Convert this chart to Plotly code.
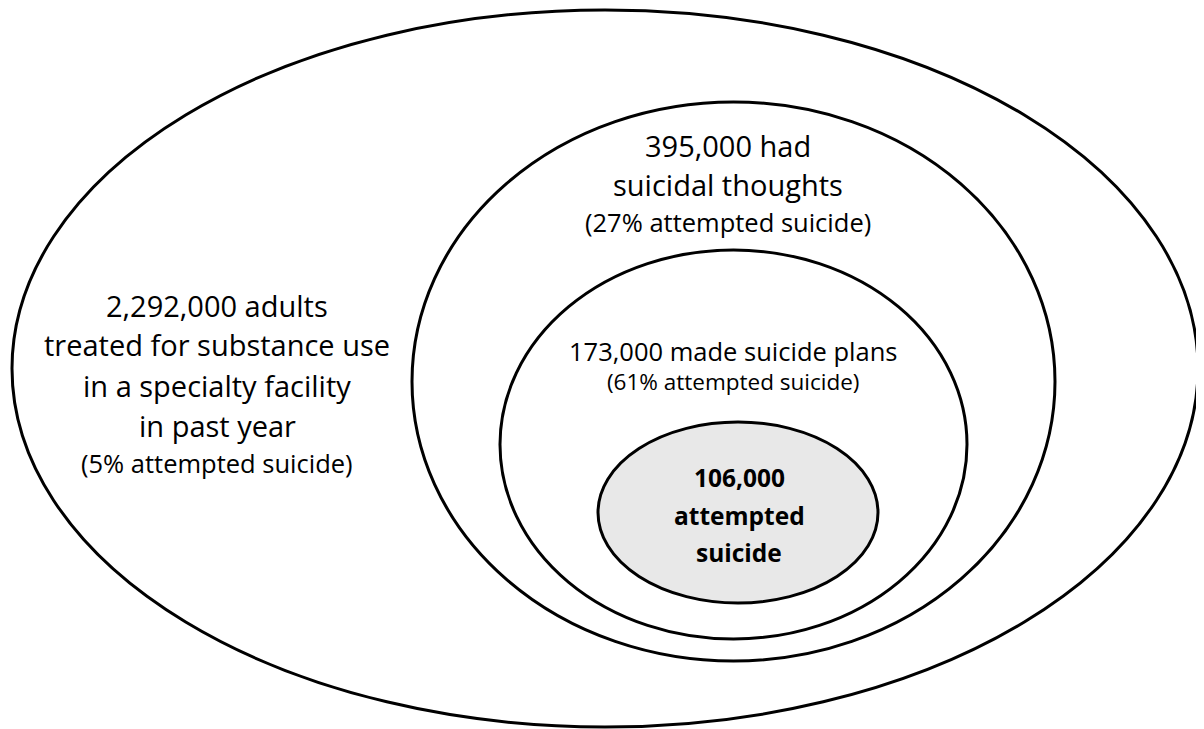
import plotly.graph_objects as go

# ---- data ----
group_counts = ["2,292,000", "395,000", "173,000", "106,000"]
group_pcts = ["5%", "27%", "61%", None]
outer_lines = ["2,292,000 adults", "treated for substance use", "in a specialty facility", "in past year"]
outer_note = "(5% attempted suicide)"
thoughts_lines = ["395,000 had", "suicidal thoughts"]
thoughts_note = "(27% attempted suicide)"
plans_line = "173,000 made suicide plans"
plans_note = "(61% attempted suicide)"
attempt_lines = ["<b>106,000</b>", "<b>attempted</b>", "<b>suicide</b>"]

# ---- geometry (page pixel coordinates) ----
W, H = 1204, 729
PAD = 8  # default page body margin
ellipses = [
    dict(x0=12, x1=1198, y0=10, y1=727, fill="white"),
    dict(x0=412, x1=1055, y0=102, y1=661, fill="white"),
    dict(x0=500, x1=967, y0=250, y1=639, fill="white"),
    dict(x0=598, x1=878, y0=422, y1=603, fill="#e8e8e8"),
]

FONT = "Open Sans"
fig = go.Figure()
fig.add_trace(go.Scatter(x=[PAD, W], y=[PAD, H], mode="markers",
                         marker=dict(opacity=0), hoverinfo="skip", showlegend=False))

for e in ellipses:
    fig.add_shape(type="circle", xref="x", yref="y",
                  x0=e["x0"], x1=e["x1"], y0=e["y0"], y1=e["y1"],
                  fillcolor=e["fill"], line=dict(color="black", width=3), layer="below")

def add_text(txt, x, y, size):
    fig.add_annotation(x=x, y=y, xref="x", yref="y", text=txt, showarrow=False,
                       xanchor="center", yanchor="middle",
                       font=dict(family=FONT, size=size, color="black"))

outer_y = [305, 344, 385, 425]
for t, y in zip(outer_lines, outer_y):
    add_text(t, 217, y, 29)
add_text(outer_note, 217, 463, 25.5)

for t, y in zip(thoughts_lines, [145, 184]):
    add_text(t, 728, y, 29)
add_text(thoughts_note, 728, 222, 25.5)

# two-line label with a larger first line
add_text('<span style="font-size:25.5px">' + plans_line + '</span><br>' + plans_note,
         733, 365, 22.5)

for t, y in zip(attempt_lines, [477, 515, 552]):
    add_text(t, 739, y, 24.5)

fig.update_layout(
    width=W - PAD, height=H - PAD, margin=dict(l=0, r=0, t=0, b=0),
    paper_bgcolor="white", plot_bgcolor="white",
    xaxis=dict(range=[PAD, W], visible=False, fixedrange=True),
    yaxis=dict(range=[H, PAD], visible=False, fixedrange=True),
    showlegend=False,
)
fig.write_html("out.html", config={"displayModeBar": False})
